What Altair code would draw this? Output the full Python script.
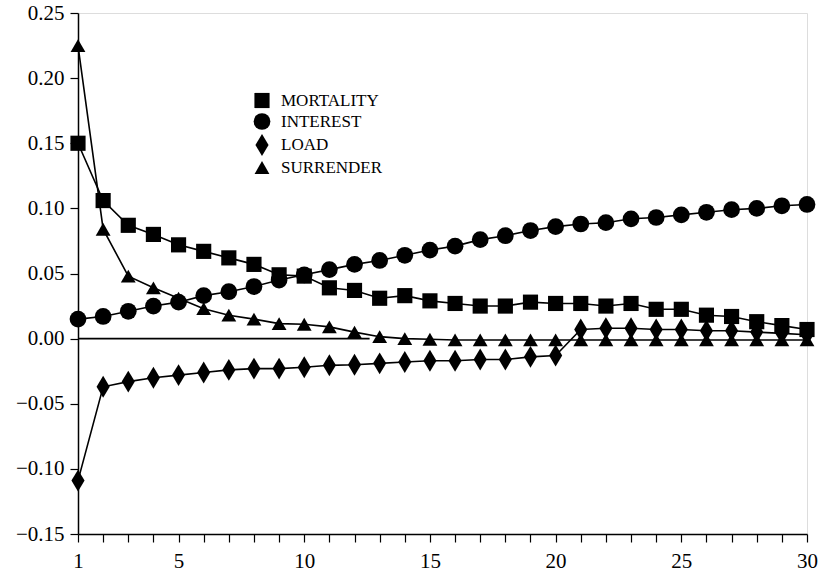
import altair as alt
import pandas as pd

years = list(range(1, 31))
series_names = ["MORTALITY", "INTEREST", "LOAD", "SURRENDER"]
mortality = [0.150, 0.106, 0.087, 0.080, 0.072, 0.067, 0.062, 0.057, 0.049, 0.048,
             0.039, 0.037, 0.031, 0.033, 0.029, 0.027, 0.025, 0.025, 0.028, 0.027,
             0.027, 0.025, 0.027, 0.0225, 0.0225, 0.018, 0.017, 0.013, 0.010, 0.007]
interest = [0.015, 0.017, 0.021, 0.025, 0.028, 0.033, 0.036, 0.040, 0.045, 0.049,
            0.053, 0.057, 0.060, 0.064, 0.068, 0.071, 0.076, 0.079, 0.083, 0.086,
            0.088, 0.089, 0.092, 0.093, 0.095, 0.097, 0.099, 0.100, 0.102, 0.103]
load = [-0.109, -0.037, -0.033, -0.030, -0.028, -0.026, -0.024, -0.023, -0.023, -0.022,
        -0.0205, -0.020, -0.019, -0.018, -0.017, -0.017, -0.016, -0.016, -0.014, -0.013,
        0.007, 0.008, 0.008, 0.007, 0.007, 0.006, 0.006, 0.005, 0.004, 0.003]
surrender = [0.225, 0.084, 0.048, 0.039, 0.031, 0.023, 0.018, 0.015, 0.0115, 0.011,
             0.009, 0.005, 0.0015, 0.0, -0.0005, -0.001, -0.001, -0.001, -0.001, -0.001,
             -0.001, -0.001, -0.001, -0.001, -0.001, -0.001, -0.001, -0.001, -0.001, -0.001]
y_ticks = [0.25, 0.20, 0.15, 0.10, 0.05, 0.00, -0.05, -0.10, -0.15]
x_labels = [1, 5, 10, 15, 20, 25, 30]
zero_span = [1, 12.6]

rows = []
for name, vals in zip(series_names, [mortality, interest, load, surrender]):
    for yr, v in zip(years, vals):
        rows.append({"year": yr, "value": v, "series": name})
df = pd.DataFrame(rows)

zero_df = pd.DataFrame({"year": zero_span, "value": [0.0, 0.0]})

FONT = "Liberation Serif"
diamond = "M0,-1L0.6,0L0,1L-0.6,0Z"

xscale = alt.Scale(domain=[1, 30], nice=False, zero=False)
yscale = alt.Scale(domain=[-0.15, 0.25], nice=False, zero=False)

label_expr = ("indexof([" + ",".join(str(v) for v in x_labels) +
              "], datum.value) >= 0 ? format(datum.value, 'd') : ''")

x_axis = alt.Axis(values=years, labelExpr=label_expr, tickSize=8,
                  labelPadding=8, labelFontSize=21, labelFont=FONT,
                  labelColor="black", tickColor="black", domainColor="black",
                  grid=False, labelFlush=False, labelOverlap=False,
                  labelBound=False, domainWidth=1.5, tickWidth=1.2)
y_axis = alt.Axis(values=y_ticks, format=".2f", tickSize=8, labelPadding=6,
                  labelFontSize=21, labelFont=FONT, labelColor="black",
                  tickColor="black", domainColor="black", grid=False,
                  labelFlush=False, labelOverlap=False, domainWidth=1.5,
                  tickWidth=1.2)

legend_cfg = dict(title=None, orient="none", legendX=172, legendY=79,
                  labelFont=FONT, labelFontSize=17, labelColor="black",
                  labelOffset=7, rowPadding=-6)

lines = alt.Chart(df).mark_line(color="black", strokeWidth=1.6).encode(
    x=alt.X("year:Q", scale=xscale, title=None, axis=x_axis),
    y=alt.Y("value:Q", scale=yscale, title=None, axis=y_axis),
    detail="series:N", order="year:Q")

zero_line = alt.Chart(zero_df).mark_line(color="black", strokeWidth=1.8).encode(
    x=alt.X("year:Q", scale=xscale, title=None, axis=x_axis),
    y=alt.Y("value:Q", scale=yscale, title=None, axis=y_axis))

points = alt.Chart(df).mark_point(filled=True, opacity=1).encode(
    x=alt.X("year:Q", scale=xscale, title=None, axis=x_axis),
    y=alt.Y("value:Q", scale=yscale, title=None, axis=y_axis),
    shape=alt.Shape("series:N", sort=series_names,
                    scale=alt.Scale(domain=series_names,
                                    range=["square", "circle", diamond, "triangle-up"]),
                    legend=alt.Legend(**legend_cfg)),
    size=alt.Size("series:N", sort=series_names,
                  scale=alt.Scale(type="ordinal", domain=series_names,
                                  range=[230, 280, 480, 220]),
                  legend=alt.Legend(**legend_cfg)),
    color=alt.value("black"),
)

chart = alt.layer(lines, zero_line, points).properties(
    width=729, height=521,
    padding={"left": 78, "top": 13, "right": 12, "bottom": 39},
    autosize=alt.AutoSizeParams(type="none"),
).configure_view(stroke="black", strokeWidth=1.5).configure(background="white")

chart.save("out.html", embed_options={"renderer": "svg", "actions": False})
